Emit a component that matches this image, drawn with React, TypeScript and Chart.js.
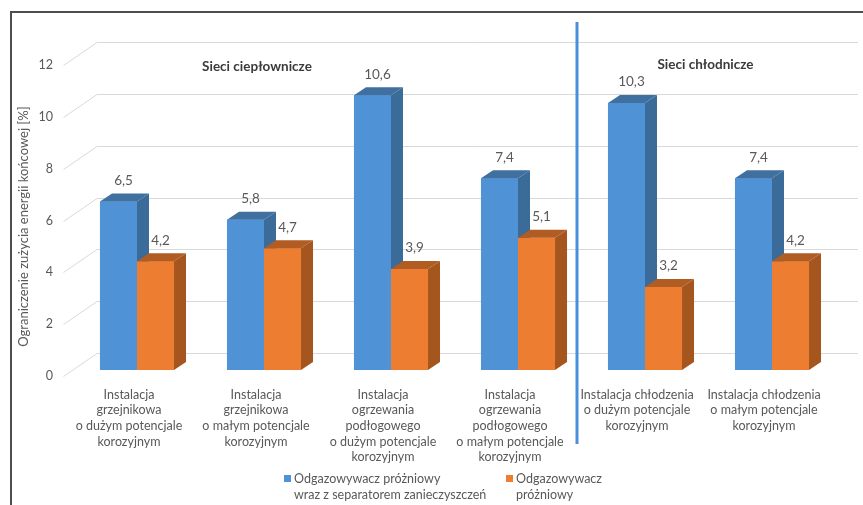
import React, { useEffect, useRef } from "react";
import { Chart, registerables } from "chart.js";

Chart.register(...registerables);

const categories: string[][] = [
  ["Instalacja", "grzejnikowa", "o dużym potencjale", "korozyjnym"],
  ["Instalacja", "grzejnikowa", "o małym potencjale", "korozyjnym"],
  ["Instalacja", "ogrzewania", "podłogowego", "o dużym potencjale", "korozyjnym"],
  ["Instalacja", "ogrzewania", "podłogowego", "o małym potencjale", "korozyjnym"],
  ["Instalacja chłodzenia", "o dużym potencjale", "korozyjnym"],
  ["Instalacja chłodzenia", "o małym potencjale", "korozyjnym"],
];
const seriesNames: string[][] = [
  ["Odgazowywacz próżniowy", "wraz z separatorem zanieczyszczeń"],
  ["Odgazowywacz", "próżniowy"],
];
const vacuumWithSeparator: number[] = [6.5, 5.8, 10.6, 7.4, 10.3, 7.4];
const vacuumOnly: number[] = [4.2, 4.7, 3.9, 5.1, 3.2, 4.2];
const yTicks: number[] = [0, 2, 4, 6, 8, 10, 12];
const groupTitles: string[] = ["Sieci ciepłownicze", "Sieci chłodnicze"];
const yTitle = "Ograniczenie zużycia energii końcowej [%]";

const FONT = "Lato, 'Open Sans', sans-serif";
const TEXT = "#595959";
const FRONT = ["#4f93d6", "#ed7d31"];
const SIDE = ["#3b6b98", "#a5561f"];
const TOP = ["#3f70a0", "#b05c22"];
const DX = 12;
const DY = 8;

const fmt = (v: number) => v.toFixed(1).replace(".", ",");

const threeD = {
  id: "threeD",
  beforeDatasetsDraw(chart: any) {
    const ctx = chart.ctx;
    const y = chart.scales.y;
    const a = chart.chartArea;
    ctx.save();
    ctx.strokeStyle = "#d9d9d9";
    ctx.lineWidth = 1;
    for (const v of yTicks) {
      const p = Math.round(y.getPixelForValue(v)) + 0.5;
      ctx.beginPath();
      ctx.moveTo(a.left - 10, p + 6);
      ctx.lineTo(a.left + 23.5, p - 17);
      ctx.lineTo(a.right + 22.5, p - 17);
      ctx.stroke();
    }
    ctx.restore();
  },
  afterDatasetsDraw(chart: any) {
    const ctx = chart.ctx;
    ctx.save();
    chart.data.datasets.forEach((ds: any, di: number) => {
      const meta = chart.getDatasetMeta(di);
      meta.data.forEach((el: any) => {
        el.draw(ctx, chart.chartArea);
        const { x, y, base, width } = el.getProps(["x", "y", "base", "width"], true);
        const l = x - width / 2;
        const r = x + width / 2;
        ctx.fillStyle = SIDE[di];
        ctx.beginPath();
        ctx.moveTo(r, y);
        ctx.lineTo(r + DX, y - DY);
        ctx.lineTo(r + DX, base - DY);
        ctx.lineTo(r, base);
        ctx.closePath();
        ctx.fill();
        ctx.fillStyle = TOP[di];
        ctx.beginPath();
        ctx.moveTo(l, y);
        ctx.lineTo(l + DX, y - DY);
        ctx.lineTo(r + DX, y - DY);
        ctx.lineTo(r, y);
        ctx.closePath();
        ctx.fill();
      });
    });
    // value labels
    ctx.fillStyle = TEXT;
    ctx.font = `13.5px ${FONT}`;
    ctx.textAlign = "center";
    ctx.textBaseline = "middle";
    chart.data.datasets.forEach((ds: any, di: number) => {
      const meta = chart.getDatasetMeta(di);
      meta.data.forEach((el: any, i: number) => {
        const { x, y } = el.getProps(["x", "y"], true);
        ctx.fillText(fmt(ds.data[i]), x + 5, y - 21);
      });
    });
    ctx.restore();
  },
  afterDraw(chart: any) {
    const ctx = chart.ctx;
    const xs = chart.scales.x;
    const ys = chart.scales.y;
    ctx.save();
    // frame
    ctx.strokeStyle = "#4d4d4d";
    ctx.lineWidth = 2;
    ctx.beginPath();
    ctx.moveTo(11, 505);
    ctx.lineTo(11, 12);
    ctx.lineTo(863, 12);
    ctx.stroke();
    // separator
    const sx = xs.getPixelForValue(3.5) - 4.5;
    ctx.strokeStyle = "#4a90d9";
    ctx.lineWidth = 3;
    ctx.beginPath();
    ctx.moveTo(sx, 22);
    ctx.lineTo(sx, 444);
    ctx.stroke();
    // group titles
    ctx.fillStyle = "#3a3a3a";
    ctx.font = `bold 13.5px ${FONT}`;
    ctx.textAlign = "center";
    ctx.textBaseline = "middle";
    ctx.fillText(groupTitles[0], xs.getPixelForValue(1) - 7, 67);
    ctx.fillText(groupTitles[1], xs.getPixelForValue(4.5) - 3, 65);
    // y title
    ctx.fillStyle = TEXT;
    ctx.font = `13px ${FONT}`;
    ctx.translate(24, (ys.getPixelForValue(0) + ys.getPixelForValue(12)) / 2 + 12);
    ctx.rotate(-Math.PI / 2);
    ctx.fillText(yTitle, 0, 0);
    ctx.setTransform(1, 0, 0, 1, 0, 0);
    // legend
    const legendX = [284, 506];
    ctx.textAlign = "left";
    ctx.font = `12.5px ${FONT}`;
    seriesNames.forEach((lines, i) => {
      ctx.fillStyle = FRONT[i];
      ctx.fillRect(legendX[i], 475, 7, 7);
      ctx.fillStyle = TEXT;
      lines.forEach((t, j) => ctx.fillText(t, legendX[i] + 10, 478.5 + j * 16.5));
    });
    ctx.restore();
  },
};

export default function App() {
  const ref = useRef<HTMLCanvasElement | null>(null);
  useEffect(() => {
    document.body.style.margin = "0";
    const canvas = ref.current;
    if (!canvas) return;
    const chart = new Chart(canvas, {
      type: "bar",
      data: {
        labels: categories as any,
        datasets: [
          {
            label: seriesNames[0].join(" "),
            data: vacuumWithSeparator,
            backgroundColor: FRONT[0],
            borderWidth: 0,
            categoryPercentage: 0.583,
            barPercentage: 1,
          },
          {
            label: seriesNames[1].join(" "),
            data: vacuumOnly,
            backgroundColor: FRONT[1],
            borderWidth: 0,
            categoryPercentage: 0.583,
            barPercentage: 1,
          },
        ],
      },
      options: {
        animation: false,
        responsive: false,
        devicePixelRatio: 1,
        layout: { padding: { left: 0, right: 27.5, top: 59, bottom: 0 } },
        plugins: { legend: { display: false }, tooltip: { enabled: false } },
        scales: {
          x: {
            grid: { display: false, drawTicks: false },
            border: { display: false },
            ticks: {
              color: TEXT,
              font: { family: FONT, size: 12.5, lineHeight: 1.25 },
              padding: 17,
              labelOffset: -8,
              maxRotation: 0,
              autoSkip: false,
            },
            afterFit(s: any) {
              s.height = 135;
            },
          },
          y: {
            min: 0,
            max: 12,
            ticks: {
              stepSize: 2,
              padding: 20.5,
              labelOffset: 6,
              color: TEXT,
              font: { family: FONT, size: 12.5 },
            },
            grid: { display: false, drawTicks: false },
            border: { display: false },
            afterFit(s: any) {
              s.width = 73.5;
            },
          },
        },
      } as any,
      plugins: [threeD],
    });
    return () => chart.destroy();
  }, []);
  return <canvas ref={ref} width={863} height={505} style={{ display: "block" }} />;
}
